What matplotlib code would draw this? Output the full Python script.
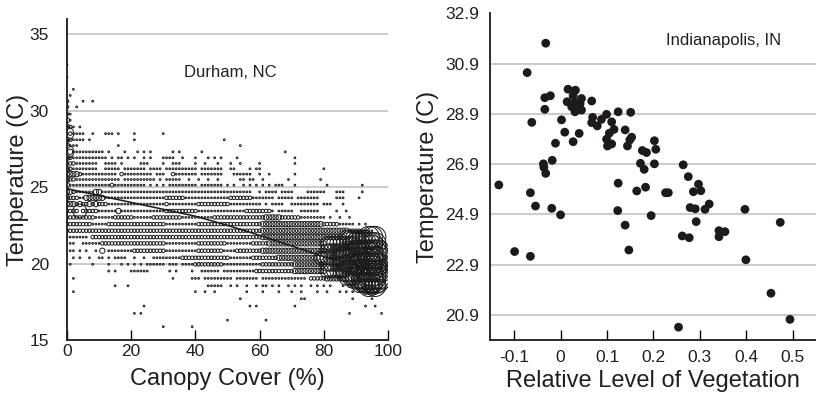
import matplotlib
matplotlib.use("Agg")
import matplotlib.pyplot as plt

plt.rcParams['font.family'] = ['Liberation Sans', 'DejaVu Sans']

# ---------------- Durham, NC (bubble plot: canopy cover vs temperature) ----------------
# each row: temperature level, then tokens "x" / "a-b" with optional size code suffix
durham_temps = [33.00, 32.20, 31.40, 31.00, 30.62, 30.25, 29.78, 29.38, 28.94, 28.50,
                28.10, 27.72, 27.31, 26.92, 26.55, 26.20, 25.85, 25.50, 25.13, 24.69,
                24.30, 23.89, 23.44, 23.02, 22.58, 22.15, 21.73, 21.32, 20.84, 20.38,
                19.95, 19.51, 19.03, 18.55, 18.16, 17.70, 17.22, 16.74, 16.30, 15.87]
durham_rows = [
    "0",
    "0",
    "2",
    "1",
    "0o 5 8",
    "0o 3",
    "0o 1",
    "0O 1",
    "0O 1o 2 4",
    "0@ 1o 2-5 8 12-14 16 21 30",
    "0O 1o 2-5 7 21 49",
    "0O 1 2-3 16 54",
    "0@ 1O 2-10 11 13 18 22 24 26 33 35 42 68",
    "0O 1o 2-12 14 16-17 19 21 24 26 30-33 36 40 44 46 48 53 71",
    "0o 1-2o 3-9 12-15 17 23-25 30 33-35 40 43 47 51 54 60 71",
    "0O 1o 2-9 12-16 18-24 26-29 31-40 42-48 51 52 57 59 60 80",
    "0O 1-3O 4o 5-14 15 17o 18-26 28-30 33o 34-40 42-48 52-57 60 63 71",
    "0O 1-2o 3-16 18-27 29 31-35 38 41 44 47 54 55 57 58 61 69 79",
    "0O 1-13 14o 15-24 26 28 30 32-40 42-48 50 52 55 57 59 61 63 65-67 71 81 92",
    "0O 1O 2o 3-8 9-10O 11-54 55-57 60 62-65 67-70 75-80 84-86 92",
    "0O 1-3o 4-5 6-11O 12-30 31-36o 37-50 51-57o 58-64 66-70 72-78 84-86 91",
    "0O 1O 2O 3o 4O 5-6o 7O 8o 9O 10-12o 13-30 31o 32-40 41-50o 51-60 62 64-67 70-78 80-82 86",
    "0o 1-3o 4@ 5-9o 10-15 16O 17-30 31-40o 41-55 56-63o 64 66-70 73-78 84 87",
    "0o 1-8o 9-14 15-20o 21-26 27-35o 36-45 46-52o 53-61o 62-66O 67-72o 73-80 82 85 88",
    "0o 1-7o 8-12 13-20o 21-30o 31-40 41-50o 51-60o 61-70O 71-79O 80-84o 85-89 91 93",
    "0o 1-10o 11-20o 21-30o 31-40o 41-50o 51-60o 61-70O 71-79O 80-87O 88-91o 92-95",
    "0 1-6 8-12o 13-22o 23-35o 36-48o 49-60o 61-70O 71-80O 81-86O 87-89@ 90-93@ 94-96#",
    "1 2 5-10 11-20o 21-30o 31-40 41-49o 50-57 58-62o 63-70O 71-80O 81-86@ 87-89@ 90-96#",
    "1 2 4 6 9 11O 13-20 21-30o 31-40 41-48o 49-52 53-60o 61-70O 71-80O 81-86@ 87-89@ 90-97# 95%",
    "2 4 7 10 11 13 15-18 21 24 27-35 36-50o 51-57 58-65o 66-72O 73-78O 79-85@ 86-88# 89-97# 94% 96%",
    "1 8 13 17 19 21 23 25-30 32-34 36-39 40-48o 49-52 53-60 61-70o 71-80O 81-87@ 88-90# 91-97# 93% 95%",
    "13 15 20-25 32 34 39 42-47 49-58 59-70o 71-80O 81-86@ 87-89# 90-98# 95%",
    "2 33 39-41 43-48 49-51 53-59 61-74 76-80o 81-86O 87-89@ 90-98# 94% 96%",
    "15 19 44-48 51 53 56 59 61 62 64 66 69 71 73 76 78 80 82 86 88-90o 91-97@ 94# 96#",
    "2 40 43 46 56 61 66 70 73 78 81 85 87 89 92 93-96O",
    "54 73 74 89 95",
    "24 57 59 71 93 96",
    "21 23 88 98",
    "50 62",
    "30 39",
]
size_codes = {'.': 1, ':': 2, 'o': 4, 'O': 9, '8': 20, '@': 60, '#': 150, '%': 300}

trend_x = [0, 10, 20, 30, 40, 50, 60, 70, 80, 90, 95]
trend_y = [24.9, 24.45, 24.0, 23.55, 23.1, 22.5, 21.85, 21.15, 20.45, 19.9, 19.7]

durham_yticks = [15, 20, 25, 30, 35]
durham_xticks = [0, 20, 40, 60, 80, 100]

# ---------------- Indianapolis, IN ----------------
indy_x = [-0.133, -0.032, -0.072, -0.034, -0.022, -0.034, -0.062, 0.002, 0.009, -0.011,
          -0.018, -0.037, -0.036, -0.032, -0.065, -0.054, -0.019, 0.000, -0.099, -0.065,
          0.016, 0.032, 0.027, 0.045, 0.014, 0.031, 0.042, 0.024, 0.034, 0.045,
          0.031, 0.067, 0.069, 0.067, 0.079, 0.088, 0.099, 0.124, 0.110, 0.151,
          0.027, 0.040, 0.115, 0.105, 0.099, 0.101, 0.110, 0.139, 0.153, 0.149,
          0.144, 0.202, 0.205, 0.176, 0.185, 0.172, 0.180, 0.202, 0.124, 0.164,
          0.183, 0.123, 0.139, 0.195, 0.147, 0.226, 0.232, 0.264, 0.275, 0.297,
          0.286, 0.302, 0.279, 0.290, 0.320, 0.311, 0.292, 0.262, 0.277, 0.341,
          0.354, 0.341, 0.397, 0.399, 0.473, 0.453, 0.494, 0.254]
indy_y = [26.07, 31.71, 30.54, 29.54, 29.62, 29.08, 28.56, 28.66, 28.17, 27.73,
          27.05, 26.91, 26.77, 26.53, 25.76, 25.23, 25.14, 24.88, 23.42, 23.23,
          29.88, 29.84, 29.62, 29.51, 29.38, 29.35, 29.31, 29.18, 29.12, 29.05,
          28.98, 29.41, 28.76, 28.55, 28.42, 28.68, 28.88, 28.98, 28.58, 28.96,
          27.79, 28.12, 28.28, 28.13, 27.89, 27.62, 27.70, 28.26, 27.97, 27.86,
          27.62, 27.83, 27.49, 27.44, 27.36, 26.93, 26.69, 26.91, 26.14, 25.83,
          25.98, 25.05, 24.47, 24.85, 23.48, 25.76, 25.76, 26.87, 26.40, 26.10,
          25.80, 25.84, 25.17, 25.12, 25.31, 25.10, 24.61, 24.04, 23.97, 24.25,
          24.21, 24.01, 25.10, 23.09, 24.58, 21.76, 20.72, 20.41]
indy_yticks = [20.9, 22.9, 24.9, 26.9, 28.9, 30.9, 32.9]
indy_xticks = [-0.1, 0, 0.1, 0.2, 0.3, 0.4, 0.5]
indy_xticklabels = ["-0.1", "0", "0.1", "0.2", "0.3", "0.4", "0.5"]


def parse_rows(temps, rows):
    xs, ys, ss = [], [], []
    for t, row in zip(temps, rows):
        for tok in row.split():
            code = '.'
            if not tok[-1].isdigit():
                code = tok[-1]
                tok = tok[:-1]
            if '-' in tok:
                a, b = tok.split('-')
                vals = range(int(a), int(b) + 1)
            else:
                vals = [int(tok)]
            for v in vals:
                xs.append(v)
                ys.append(t)
                ss.append(size_codes[code])
    return xs, ys, ss


TXT = '#231f20'
fig = plt.figure(figsize=(8.16, 3.99), dpi=100)

# ---- left panel ----
ax1 = fig.add_axes([67 / 816, 1 - 340 / 399, 321 / 816, 321 / 399])
dx, dy, dc = parse_rows(durham_temps, durham_rows)
ax1.scatter(dx, dy, s=[1.6 * c for c in dc], facecolors='none', edgecolors='#1a1a1a',
            linewidths=0.7, zorder=3)
ax1.plot(trend_x, trend_y, color='#1a1a1a', lw=1.1, zorder=4)
ax1.set_xlim(0, 100)
ax1.set_ylim(15, 36)
ax1.set_xticks(durham_xticks)
ax1.set_yticks(durham_yticks)
for y in durham_yticks[1:]:
    ax1.axhline(y, color='#c4c4c4', lw=1.2, zorder=1)
ax1.spines['top'].set_visible(False)
ax1.spines['right'].set_visible(False)
for sp in ('left', 'bottom'):
    ax1.spines[sp].set_linewidth(1.3)
    ax1.spines[sp].set_color('#1a1a1a')
ax1.tick_params(axis='x', direction='in', length=7, width=1.0, pad=3,
                labelsize=12.5, labelcolor=TXT)
ax1.tick_params(axis='y', length=0, pad=13, labelsize=12.5, labelcolor=TXT)
ax1.set_xlabel('Canopy Cover (%)', fontsize=17, color=TXT, labelpad=6)
ax1.set_ylabel('Temperature (C)', fontsize=17, color=TXT, labelpad=0)
ax1.text(50.8, 32.5, 'Durham, NC', ha='center', va='center', fontsize=12, color=TXT)

# ---- right panel ----
ax2 = fig.add_axes([490 / 816, 1 - 340 / 399, 326 / 816, (340 - 13.3) / 399])
ax2.scatter(indy_x, indy_y, s=40, color='#1c1a1a', edgecolors='none', zorder=3)
ax2.set_xlim(-0.152, 0.55)
ax2.set_ylim(19.9, 32.9)
ax2.set_xticks(indy_xticks)
ax2.set_xticklabels(indy_xticklabels)
ax2.set_yticks(indy_yticks)
for y in indy_yticks[:-1]:
    ax2.axhline(y, color='#c4c4c4', lw=1.2, zorder=1)
ax2.spines['top'].set_visible(False)
ax2.spines['right'].set_visible(False)
for sp in ('left', 'bottom'):
    ax2.spines[sp].set_linewidth(1.3)
    ax2.spines[sp].set_color('#1a1a1a')
ax2.tick_params(axis='x', direction='in', length=7, width=1.0, pad=7,
                labelsize=12.5, labelcolor=TXT)
ax2.tick_params(axis='y', length=0, pad=8, labelsize=12.5, labelcolor=TXT)
ax2.set_xlabel('Relative Level of Vegetation', fontsize=17, color=TXT, labelpad=4)
ax2.set_ylabel('Temperature (C)', fontsize=17, color=TXT, labelpad=4)
ax2.text(0.35, 31.81, 'Indianapolis, IN', ha='center', va='center', fontsize=12, color=TXT)

fig.savefig('out.png', dpi=100)
